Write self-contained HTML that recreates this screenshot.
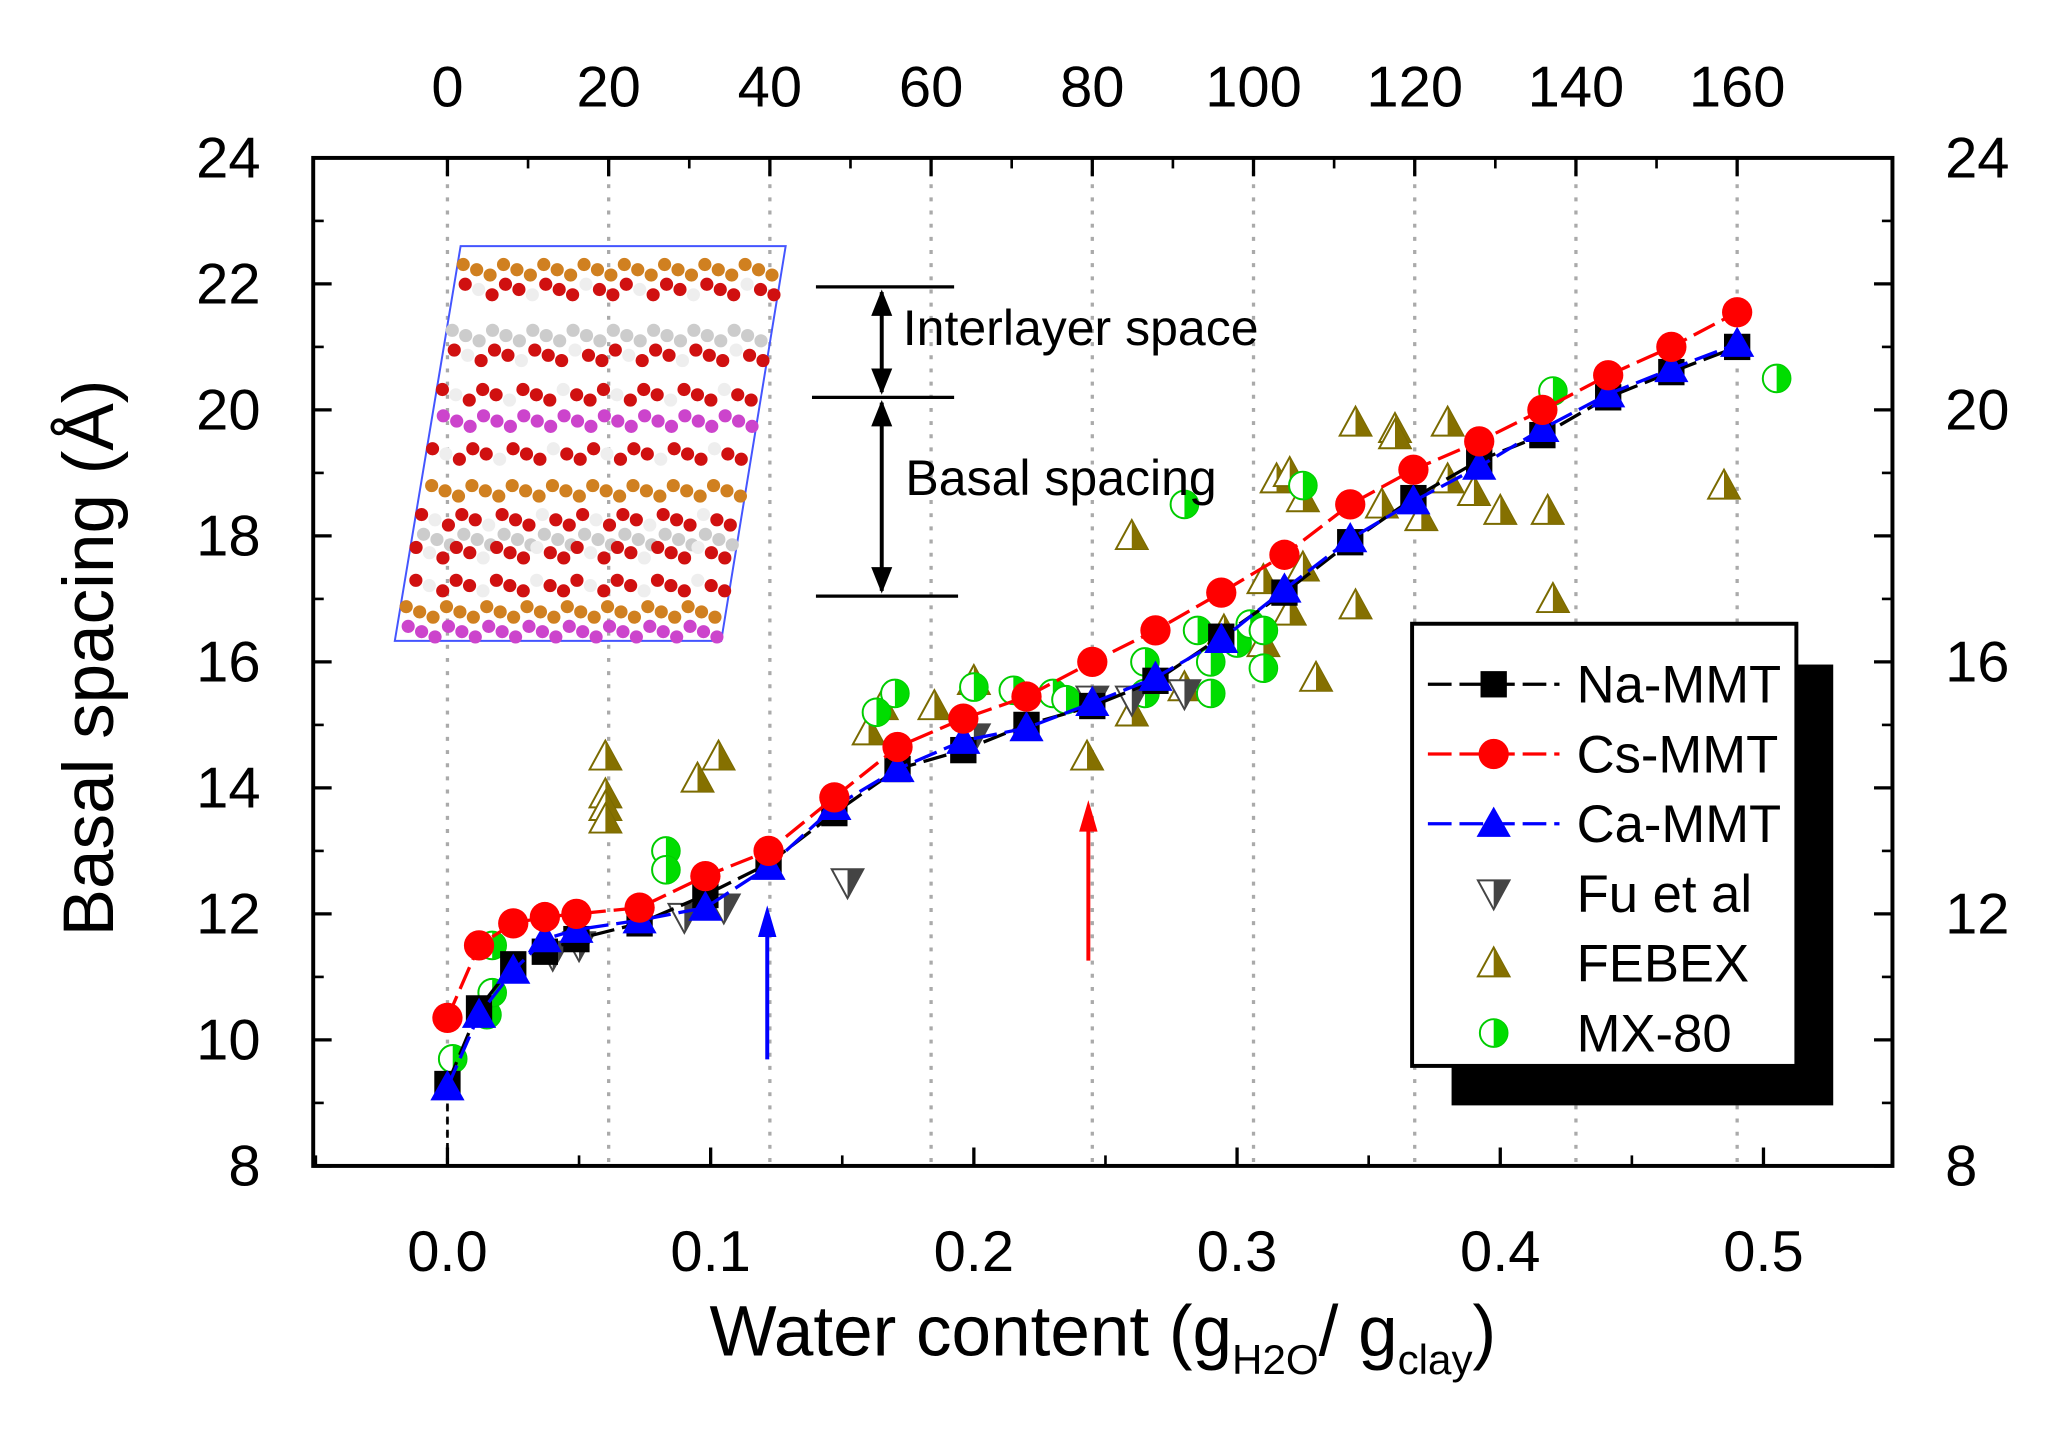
<!DOCTYPE html>
<html><head><meta charset="utf-8"><style>
html,body{margin:0;padding:0;background:#fff}
svg{display:block}
text{font-family:"Liberation Sans",Arial,sans-serif;fill:#000}
</style></head><body>
<svg id="chart" width="2053" height="1437" viewBox="0 0 1560 1092" preserveAspectRatio="none" xmlns="http://www.w3.org/2000/svg">
<g id="grid"></g>
<g id="inset"></g>
<g id="series"></g>
<g id="axes"></g>
<g id="annot">
  <line x1="620" y1="218" x2="725" y2="218" stroke="#000" stroke-width="2.5"/>
  <line x1="617" y1="302" x2="725" y2="302" stroke="#000" stroke-width="2.5"/>
  <line x1="620" y1="453" x2="728" y2="453" stroke="#000" stroke-width="2.5"/>
  <line x1="670" y1="222" x2="670" y2="298" stroke="#000" stroke-width="3"/>
  <polygon points="670,220 662,240 678,240"/><polygon points="670,300 662,280 678,280"/>
  <line x1="670" y1="306" x2="670" y2="449" stroke="#000" stroke-width="3"/>
  <polygon points="670,304 662,324 678,324"/><polygon points="670,451 662,431 678,431"/>
  <text x="686" y="262" font-size="38">Interlayer space</text>
  <text x="688" y="376" font-size="38">Basal spacing</text>
  <line x1="583" y1="805" x2="583" y2="705" stroke="#0000ff" stroke-width="3"/>
  <polygon points="583,688 576,712 590,712" fill="#0000ff"/>
  <line x1="827" y1="730" x2="827" y2="625" stroke="#ff0000" stroke-width="3"/>
  <polygon points="827,608 820,632 834,632" fill="#ff0000"/>
</g>
<g id="legend"></g>
</svg>
<script>
const NS="http://www.w3.org/2000/svg";
const xs=[0,0.012,0.025,0.037,0.049,0.073,0.098,0.122,0.147,0.171,0.196,0.22,0.245,0.269,0.294,0.318,0.343,0.367,0.392,0.416,0.441,0.465,0.49];
const naVals=[9.3,10.5,11.2,11.4,11.6,11.85,12.3,12.8,13.6,14.3,14.6,15.0,15.3,15.7,16.4,17.1,17.9,18.6,19.2,19.6,20.2,20.6,21.0];
const csVals=[10.35,11.5,11.85,11.95,12.0,12.1,12.6,13.0,13.85,14.65,15.1,15.45,16.0,16.5,17.1,17.7,18.5,19.05,19.5,20.0,20.55,21.0,21.55];
const caVals=[9.25,10.4,11.1,11.6,11.75,11.9,12.1,12.75,13.7,14.3,14.75,14.95,15.35,15.75,16.35,17.15,17.95,18.55,19.1,19.7,20.25,20.65,21.05];
const fuX=[0.04,0.05,0.09,0.105,0.152,0.2,0.245,0.26,0.28];
const fuY=[11.35,11.5,11.95,12.1,12.5,14.8,15.4,15.4,15.5];
const febX=[0.06,0.06,0.06,0.06,0.095,0.103,0.16,0.165,0.185,0.2,0.243,0.26,0.26,0.28,0.295,0.31,0.31,0.315,0.32,0.32,0.325,0.325,0.33,0.345,0.345,0.355,0.36,0.36,0.38,0.38,0.39,0.4,0.418,0.42,0.485,0.37];
const febY=[14.5,13.9,13.7,13.5,14.15,14.5,14.9,15.3,15.3,15.7,14.5,15.2,18.0,15.6,16.5,16.3,17.3,18.9,16.8,19.0,17.5,18.6,15.75,19.8,16.9,18.5,19.7,19.6,19.8,18.9,18.7,18.4,18.4,17.0,18.8,18.3];
const mxX=[0.002,0.015,0.017,0.017,0.083,0.083,0.17,0.163,0.2,0.215,0.23,0.235,0.265,0.265,0.28,0.285,0.29,0.29,0.3,0.305,0.31,0.31,0.325,0.42,0.505];
const mxY=[9.7,10.4,10.75,11.5,13.0,12.7,15.5,15.2,15.6,15.55,15.5,15.4,16.0,15.5,18.5,16.5,16.0,15.5,16.3,16.6,15.9,16.5,18.8,20.3,20.5];
const xTicks=["0.0","0.1","0.2","0.3","0.4","0.5"];
const yTicks=[8,10,12,14,16,18,20,22,24];
const yTicksRight=[8,12,16,20,24];
const topTicks=[0,20,40,60,80,100,120,140,160];

const L=238,R=1438,T=120,B=886;
const X=v=>340+v*2000, Y=v=>886-(v-8)*(766/16), XT=v=>340+v*6.125;
function el(tag,attrs,parent){const e=document.createElementNS(NS,tag);for(const k in attrs)e.setAttribute(k,attrs[k]);parent.appendChild(e);return e;}
const grid=document.getElementById('grid'),axes=document.getElementById('axes'),ser=document.getElementById('series'),leg=document.getElementById('legend'),inset=document.getElementById('inset');

topTicks.forEach(t=>{const g=el('line',{x1:XT(t),x2:XT(t),y1:T,y2:B,stroke:'#aaa','stroke-width':2.5,'stroke-dasharray':'3,7'},grid);

});
el('line',{x1:340,x2:340,y1:Y(9.2),y2:B,stroke:'#000','stroke-width':2,'stroke-dasharray':'6,4'},grid);

el('polygon',{points:'350,187 597,187 548,487 300,487',fill:'none',stroke:'#4455ff','stroke-width':1.5},inset);
const rows=[[205,'#d08020'],[220,'#d01010'],[255,'#ccc'],[270,'#d01010'],[300,'#d01010'],[320,'#cc44cc'],[345,'#d01010'],[373,'#d08020'],[395,'#d01010'],[410,'#ccc'],[420,'#d01010'],[445,'#d01010'],[465,'#d08020'],[480,'#cc44cc']];
rows.forEach(([y,c],ri)=>{const off=350-(y-187)*(50/300);for(let i=0;i<24;i++){el('circle',{cx:off+5+i*10.2+(ri%2)*4,cy:y+((i%3)-1)*4,r:5,fill:(i%4==1&&c=='#d01010')?'#eee':c},inset);}});

const fr=el('rect',{x:L,y:T,width:R-L,height:B-T,fill:'none',stroke:'#000','stroke-width':3},axes);


xTicks.forEach((t,i)=>{const x=X(+t);el('line',{x1:x,x2:x,y1:B,y2:B-14,stroke:'#000','stroke-width':2.5},axes);
const tx=el('text',{x:x,y:B+80,'font-size':44,'text-anchor':'middle'},axes);tx.textContent=t;


const xm=X(+t+0.05);if(xm<R)el('line',{x1:xm,x2:xm,y1:B,y2:B-8,stroke:'#000','stroke-width':2},axes);});
el('line',{x1:X(-0.05),x2:X(-0.05),y1:B,y2:B-8,stroke:'#000','stroke-width':2},axes);
topTicks.forEach(t=>{const x=XT(t);el('line',{x1:x,x2:x,y1:T,y2:T+14,stroke:'#000','stroke-width':2.5},axes);
if(t<160)el('line',{x1:XT(t+10),x2:XT(t+10),y1:T,y2:T+8,stroke:'#000','stroke-width':2},axes);
const tx=el('text',{x:x,y:81,'font-size':44,'text-anchor':'middle'},axes);tx.textContent=t;

});
yTicks.forEach(t=>{const y=Y(t);el('line',{x1:L,x2:L+14,y1:y,y2:y,stroke:'#000','stroke-width':2.5},axes);
el('line',{x1:R,x2:R-14,y1:y,y2:y,stroke:'#000','stroke-width':2.5},axes);
if(t<24){el('line',{x1:L,x2:L+8,y1:Y(t+1),y2:Y(t+1),stroke:'#000','stroke-width':2},axes);el('line',{x1:R,x2:R-8,y1:Y(t+1),y2:Y(t+1),stroke:'#000','stroke-width':2},axes);}
const tx=el('text',{x:198,y:y+15,'font-size':44,'text-anchor':'end'},axes);tx.textContent=t;

});
yTicksRight.forEach(t=>{const tx=el('text',{x:1478,y:Y(t)+15,'font-size':44},axes);tx.textContent=t;

});
const xt=el('text',{x:838,y:1030,'font-size':54,'text-anchor':'middle'},axes);
xt.innerHTML='Water content (g<tspan font-size="32" dy="14">H2O</tspan><tspan dy="-14">/ g</tspan><tspan font-size="32" dy="14">clay</tspan><tspan dy="-14">)</tspan>';


const yt=el('text',{x:0,y:0,'font-size':54,'text-anchor':'middle',transform:'translate(86,500) rotate(-90)'},axes);
yt.textContent='Basal spacing (Å)';



function marker(type,x,y,color,parent,s){s=s||1;let m;
if(type=='sq')m=el('rect',{x:x-10*s,y:y-10*s,width:20*s,height:20*s,fill:color},parent);
else if(type=='ci')m=el('circle',{cx:x,cy:y,r:11.5*s,fill:color},parent);
else if(type=='tr')m=el('polygon',{points:`${x},${y-13*s} ${x-13*s},${y+10*s} ${x+13*s},${y+10*s}`,fill:color},parent);
else if(type=='fu'){m=el('g',{},parent);el('polygon',{points:`${x-12},${y-10} ${x+12},${y-10} ${x},${y+12}`,fill:'#fff',stroke:'#444','stroke-width':1.5},m);el('polygon',{points:`${x},${y-10} ${x+12},${y-10} ${x},${y+12}`,fill:'#444'},m);}
else if(type=='fe'){m=el('g',{},parent);el('polygon',{points:`${x},${y-12} ${x-12},${y+10} ${x+12},${y+10}`,fill:'#fff',stroke:'#7a6a00','stroke-width':1.5},m);el('polygon',{points:`${x},${y-12} ${x+12},${y+10} ${x},${y+10}`,fill:'#857000'},m);}
else if(type=='mx'){m=el('g',{},parent);el('circle',{cx:x,cy:y,r:10.5,fill:'#fff',stroke:'#00cc00','stroke-width':1.5},m);el('path',{d:`M${x},${y-10.5} A10.5,10.5 0 0,1 ${x},${y+10.5} Z`,fill:'#00dd00'},m);}
return m;}
function drawScatter(xa,ya,type,name){xa.forEach((v,i)=>{const m=marker(type,X(v),Y(ya[i]),null,ser);

});}
function drawLine(vals,color,type,name){const p=el('polyline',{points:xs.map((v,i)=>X(v)+','+Y(vals[i])).join(' '),fill:'none',stroke:color,'stroke-width':2.5,'stroke-dasharray':'18,6'},ser);


vals.forEach((v,i)=>{const m=marker(type,X(xs[i]),Y(v),color,ser);

});}
drawScatter(febX,febY,'fe','febex');
drawScatter(mxX,mxY,'mx','mx80');
drawScatter(fuX,fuY,'fu','fu-et-al');
drawLine(naVals,'#000','sq','na-mmt');
drawLine(caVals,'#0000ff','tr','ca-mmt');
drawLine(csVals,'#ff0000','ci','cs-mmt');

el('rect',{x:1103,y:505,width:290,height:335,fill:'#000'},leg);
el('rect',{x:1073,y:474,width:292,height:336,fill:'#fff',stroke:'#000','stroke-width':3},leg);
const legItems=[['Na-MMT','sq','#000',1],['Cs-MMT','ci','#ff0000',1],['Ca-MMT','tr','#0000ff',1],['Fu et al','fu',null,0],['FEBEX','fe',null,0],['MX-80','mx',null,0]];
legItems.forEach(([lab,t,c,line],i)=>{const y=520+i*53;const g=el('g',{},leg);


if(line)el('line',{x1:1085,x2:1185,y1:y,y2:y,stroke:c,'stroke-width':2.5,'stroke-dasharray':'18,6'},g);
marker(t,1135,y,c,g);
const tx=el('text',{x:1198,y:y+14,'font-size':40},g);tx.textContent=lab;});
</script>
</body></html>
